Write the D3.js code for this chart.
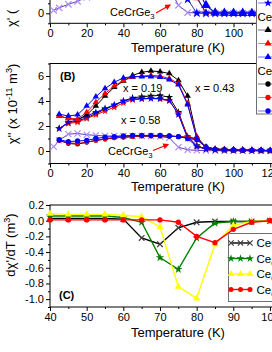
<!DOCTYPE html>
<html>
<head>
<meta charset="utf-8">
<script src="https://cdn.jsdelivr.net/npm/d3@7"></script>
<style>
    body { margin: 0; background: #fff; }
    svg { display: block; font-family: "Liberation Sans", Arial, sans-serif; }
</style>
</head>
<body>
<div id="canvas"></div>
<script>
"use strict"

/* ---------- values ---------- */

// (A) chi' : only the lowest strip of this panel is inside the picture
let tempCeA = [2, 5, 10, 15, 20, 25, 30, 40, 50, 60, 65, 70, 75, 80, 85, 90, 95, 100, 105, 110, 115, 120];
let chiCeA = [0.3, 0.55, 0.9, 1.2, 1.6, 2.0, 2.4, 3.0, 3.5, 3.8, 2.5, 0.8, 0.07, 0.03, 0.02, 0.02, 0.01, 0.01, 0.01, 0.01, 0.01, 0.01];
let tempA = [60, 65, 70, 75, 80, 85, 90, 95, 100, 105, 110, 115, 120];
let starBlueA = [6.0, 5.2, 3.6, 1.4, 0.02, 0.01, 0.01, 0.01, 0.01, 0.01, 0.01, 0.01, 0.01];
let triBlackA = [7.5, 7.0, 5.5, 3.6, 1.6, 0.05, 0.03, 0.02, 0.02, 0.02, 0.01, 0.01, 0.01];
let triRedA = [7.2, 6.8, 5.3, 3.4, 1.5, 0.04, 0.03, 0.02, 0.02, 0.02, 0.01, 0.01, 0.01];
let triBlueA = [7.0, 6.6, 5.5, 3.8, 2.5, 0.8, 0.05, 0.03, 0.02, 0.02, 0.01, 0.01, 0.01];

// (B) chi''
let tempB = [5, 10, 15, 20, 25, 30, 35, 40, 45, 50, 55, 60, 65, 70, 75, 80, 85, 90, 95, 100, 105, 110, 115, 120];
let triBlackB = [2.8, 2.6, 2.5, 2.9, 3.6, 4.4, 5.1, 5.6, 6.05, 6.3, 6.4, 6.35, 6.2, 5.65, 4.4, 1.15, 0.3, 0.15, 0.12, 0.1, 0.08, 0.06, 0.05, 0.04];
let triRedB = [2.8, 2.6, 2.55, 3.1, 3.9, 4.6, 5.2, 5.65, 5.9, 6.0, 6.05, 6.0, 5.8, 5.4, 3.8, 1.1, 0.3, 0.15, 0.12, 0.1, 0.08, 0.06, 0.05, 0.04];
let triBlueB = [2.95, 2.8, 2.9, 3.6, 4.35, 5.0, 5.5, 5.85, 5.95, 5.95, 5.95, 5.9, 5.7, 5.3, 3.7, 1.0, 0.3, 0.15, 0.12, 0.1, 0.08, 0.06, 0.05, 0.04];
let starBlackB = [1.8, 2.25, 2.4, 2.65, 3.0, 3.35, 3.65, 4.0, 4.25, 4.35, 4.4, 4.45, 4.3, 3.1, 1.15, 0.45, 0.15, 0.1, 0.08, 0.06, 0.05, 0.04, 0.03, 0.02];
let starRedB = [1.8, 2.2, 2.3, 2.6, 2.9, 3.2, 3.5, 3.85, 4.1, 4.15, 4.2, 4.15, 4.0, 3.0, 1.1, 0.4, 0.15, 0.1, 0.08, 0.06, 0.05, 0.04, 0.03, 0.02];
let starBlueB = [1.8, 2.3, 2.5, 2.8, 3.1, 3.4, 3.7, 4.0, 4.15, 4.2, 4.2, 4.2, 4.05, 2.9, 1.0, 0.35, 0.15, 0.1, 0.08, 0.06, 0.05, 0.04, 0.03, 0.02];
let circBlackB = [0.85, 0.6, 0.55, 0.7, 0.85, 0.95, 1.05, 1.1, 1.15, 1.2, 1.2, 1.2, 1.2, 1.15, 1.1, 1.0, 0.35, 0.15, 0.1, 0.08, 0.06, 0.05, 0.04, 0.03];
let circRedB = [0.85, 0.65, 0.6, 0.7, 0.85, 0.95, 1.05, 1.1, 1.15, 1.2, 1.2, 1.2, 1.2, 1.15, 1.1, 0.95, 0.3, 0.15, 0.1, 0.08, 0.06, 0.05, 0.04, 0.03];
let circBlueB = [0.9, 0.75, 0.8, 0.85, 1.0, 1.1, 1.15, 1.2, 1.25, 1.25, 1.25, 1.25, 1.2, 1.15, 1.0, 0.9, 0.3, 0.12, 0.1, 0.08, 0.06, 0.05, 0.04, 0.03];
let tempCeB = [2, 5, 10, 15, 20, 25, 30, 35, 40, 45, 50, 55, 60, 65, 70, 75, 80, 85, 90, 95, 100, 105, 110, 115, 120];
let chiCeB = [0.35, 0.85, 1.35, 1.4, 1.3, 1.25, 1.2, 1.2, 1.2, 1.2, 1.2, 1.2, 1.15, 1.05, 0.3, 0.1, 0.05, 0.03, 0.02, 0.02, 0.01, 0.01, 0.01, 0.01, 0.01];

// (C) d chi'/dT
let tempC = [40, 45, 50, 55, 60, 65, 70, 75, 80, 85, 90, 95, 100];
let dChiCe = [0.03, 0.03, 0.03, 0.03, 0.02, -0.22, -0.30, -0.09, -0.02, -0.01, -0.01, -0.01, 0.0];
let dChi19 = [0.06, 0.06, 0.06, 0.06, 0.04, -0.02, -0.47, -0.62, -0.22, -0.03, -0.01, -0.01, 0.0];
let dChi43 = [0.09, 0.08, 0.08, 0.08, 0.07, 0.05, -0.08, -0.84, -0.99, -0.30, -0.06, -0.01, 0.0];
let dChi58 = [0.01, 0.01, 0.01, 0.01, 0.01, 0.01, 0.01, -0.02, -0.20, -0.28, -0.11, -0.02, 0.0];
let legendC = ["CeCrGe3", "Ce0.81La0.19CrGe3", "Ce0.57La0.43CrGe3", "Ce0.42La0.58CrGe3"];

// tick labels
let ticksAB = [0, 20, 40, 60, 80, 100, 120];
let ticksC = [40, 50, 60, 70, 80, 90, 100];
let ticksYA = [0];
let ticksYB = [0, 2, 4, 6];
let ticksYC = [0.2, 0.0, -0.2, -0.4, -0.6, -0.8, -1.0];

/* ---------- canvas ---------- */
let drawing = d3.select("#canvas")
    .append("svg")
    .attr("width", 272)
    .attr("height", 352);

let xA = d3.scaleLinear().domain([0, 125]).range([50, 279.4]);
let yA = d3.scaleLinear().domain([-1, 12]).range([23.3, -106.7]);
let xB = d3.scaleLinear().domain([0, 125]).range([50, 279.4]);
let yB = d3.scaleLinear().domain([-1, 7]).range([163.5, 63.5]);
let xC = d3.scaleLinear().domain([40, 102]).range([50, 277.3]);
let yC = d3.scaleLinear().domain([-1.1, 0.2]).range([307, 205]);

let lavender = "#a98bff";
let purple = "#6a3ab0";

function drawFrame(x, y, xTicks, xMinor, yTicks, yMinor, yFmt) {
    drawing.append("rect")
        .attr("x", x.range()[0])
        .attr("y", y.range()[1])
        .attr("width", x.range()[1] - x.range()[0])
        .attr("height", y.range()[0] - y.range()[1])
        .attr("fill", "none")
        .attr("stroke", "black")
        .attr("stroke-width", 1)

    let bottom = drawing.append("g")
        .attr("transform", `translate(0,${y.range()[0]})`)
        .call(d3.axisBottom(x).tickValues(xTicks).tickSize(4).tickPadding(2))
    let bottomMinor = drawing.append("g")
        .attr("transform", `translate(0,${y.range()[0]})`)
        .call(d3.axisBottom(x).tickValues(xMinor).tickSize(2).tickFormat(""))
    let left = drawing.append("g")
        .attr("transform", `translate(${x.range()[0]},0)`)
        .call(d3.axisLeft(y).tickValues(yTicks).tickSize(4).tickPadding(2).tickFormat(yFmt))
    let leftMinor = drawing.append("g")
        .attr("transform", `translate(${x.range()[0]},0)`)
        .call(d3.axisLeft(y).tickValues(yMinor).tickSize(2).tickFormat(""))

    for (let g of [bottom, bottomMinor, left, leftMinor]) {
        g.select(".domain").remove();
        g.selectAll("text")
            .attr("font-size", 11)
            .attr("font-family", "Liberation Sans, Arial, sans-serif")
            .attr("fill", "black");
    }
}

function markerPath(shape, size) {
    if (shape == "x") return d3.symbol().type(d3.symbolTimes || d3.symbolCross).size(size)();
    if (shape == "star") return d3.symbol().type(d3.symbolStar).size(size)();
    if (shape == "tri") return d3.symbol().type(d3.symbolTriangle).size(size)();
    return d3.symbol().type(d3.symbolCircle).size(size)();
}

function plotSeries(xs, ys, x, y, lineColor, markColor, shape, size, width) {
    let pts = xs.map((t, i) => [t, ys[i]]);
    drawing.append("path")
        .datum(pts)
        .attr("d", d3.line().x(d => x(d[0])).y(d => y(d[1])))
        .attr("fill", "none")
        .attr("stroke", lineColor)
        .attr("stroke-width", width)

    let marks = drawing.append("g")
        .selectAll("path")
        .data(pts)
        .join("path")
        .attr("transform", d => `translate(${x(d[0])},${y(d[1])})`)
        .attr("d", markerPath(shape, size))
    if (shape == "x") {
        marks.attr("fill", "none").attr("stroke", markColor).attr("stroke-width", 1.2);
    } else {
        marks.attr("fill", markColor);
    }
}

// text with sub/superscript pieces: parts = [[text, "sub"|"sup"|""], ...]
function richText(parent, parts, size) {
    let shift = 0;
    parts.forEach(p => {
        let target = p[1] == "sup" ? -0.4 * size : p[1] == "sub" ? 0.3 * size : 0;
        parent.append("tspan")
            .attr("dy", target - shift)
            .attr("font-size", p[1] ? size * 0.7 : size)
            .text(p[0]);
        shift = target;
    });
}

function formula(name) {
    // split "Ce0.81La0.19CrGe3" into normal and subscript pieces
    return name.match(/[A-Za-z]+|[0-9.]+/g).map(s => [s, /[0-9]/.test(s) ? "sub" : ""]);
}

/* ---------- panel A ---------- */
drawFrame(xA, yA, ticksAB, [10, 30, 50, 70, 90, 110], ticksYA, [-1, 1], d3.format("d"));
plotSeries(tempCeA, chiCeA, xA, yA, purple, lavender, "x", 28, 1);
plotSeries(tempA, triBlackA, xA, yA, "black", "black", "tri", 18, 1);
plotSeries(tempA, triRedA, xA, yA, "#7a2a9a", "red", "tri", 18, 1);
plotSeries(tempA, triBlueA, xA, yA, "#2020c0", "blue", "tri", 40, 1.2);
plotSeries(tempA, starBlueA, xA, yA, "#3a2aa0", "blue", "star", 30, 1);

/* ---------- panel B ---------- */
drawFrame(xB, yB, ticksAB, [10, 30, 50, 70, 90, 110], ticksYB, [-1, 1, 3, 5, 7], d3.format("d"));
plotSeries(tempCeB, chiCeB, xB, yB, purple, lavender, "x", 26, 1);
plotSeries(tempB, circBlackB, xB, yB, "black", "black", "circle", 18, 1);
plotSeries(tempB, circRedB, xB, yB, "#c00000", "red", "circle", 18, 1);
plotSeries(tempB, circBlueB, xB, yB, "blue", "blue", "circle", 22, 1);
plotSeries(tempB, starBlackB, xB, yB, "black", "black", "star", 18, 1);
plotSeries(tempB, starRedB, xB, yB, "red", "red", "star", 18, 1);
plotSeries(tempB, starBlueB, xB, yB, "blue", "blue", "star", 18, 1);
plotSeries(tempB, triBlackB, xB, yB, "black", "black", "tri", 18, 1);
plotSeries(tempB, triRedB, xB, yB, "red", "red", "tri", 18, 1);
plotSeries(tempB, triBlueB, xB, yB, "blue", "blue", "tri", 18, 1);

/* ---------- panel C ---------- */
drawFrame(xC, yC, ticksC, [45, 55, 65, 75, 85, 95], ticksYC, [0.1, -0.1, -0.3, -0.5, -0.7, -0.9, -1.1], d => d.toFixed(1));
let colorsC = ["black", "#008000", "#ffff00", "red"];
let shapesC = ["x", "star", "tri", "circle"];
[dChiCe, dChi19, dChi43, dChi58].forEach((vals, i) => {
    plotSeries(tempC, vals, xC, yC, colorsC[i], i == 0 ? "#404040" : colorsC[i], shapesC[i], 22, 1.4);
});

// legend (C)
drawing.append("rect")
    .attr("x", 228.5).attr("y", 233.5)
    .attr("width", 80).attr("height", 68)
    .attr("fill", "white").attr("stroke", "#707070").attr("stroke-width", 1)
legendC.forEach((name, i) => {
    let ly = 243 + i * 15.5;
    let x0 = 231, x1 = 250;
    plotSeries([x0, (x0 + x1) / 2, x1].map(v => xC.invert(v)), [ly, ly, ly].map(v => yC.invert(v)), xC, yC,
        colorsC[i], i == 0 ? "#404040" : colorsC[i], shapesC[i], 20, 1.4);
    let t = drawing.append("text").attr("x", 256.5).attr("y", ly + 4);
    richText(t, formula(name), 11.5);
});

/* ---------- legend spanning (A) and (B) ---------- */
drawing.append("rect")
    .attr("x", 256.5).attr("y", -50)
    .attr("width", 80).attr("height", 164)
    .attr("fill", "white").attr("stroke", "#707070").attr("stroke-width", 1)
// symbol rows; the entry texts sit past the right edge of the picture
let legendRows = [
    ["blue", "star"],
    [null, "Ce1-xLaxCrGe3"],
    ["black", "tri"],
    ["red", "tri"],
    ["blue", "tri"],
    [null, "Ce1-xLaxCrGe3"],
    ["black", "circle"],
    ["red", "circle"],
    ["blue", "circle"]
];
legendRows.forEach((row, i) => {
    let ly = 3 + i * 13.5;
    if (row[0] == null) {
        drawing.append("text").attr("x", 257.5).attr("y", ly + 4).attr("font-size", 11.5).text(row[1]);
        return;
    }
    drawing.append("line")
        .attr("x1", 258).attr("x2", 285).attr("y1", ly).attr("y2", ly)
        .attr("stroke", row[0]).attr("stroke-opacity", 0.55).attr("stroke-width", 1)
    drawing.append("path")
        .attr("transform", `translate(268,${ly})`)
        .attr("d", markerPath(row[1], 22))
        .attr("fill", row[0])
});

/* ---------- titles and notes ---------- */
function xTitle(y) {
    drawing.append("text")
        .attr("x", 178).attr("y", y)
        .attr("text-anchor", "middle")
        .attr("font-size", 13)
        .text("Temperature (K)")
}
xTitle(52);
xTitle(191);
xTitle(337);

let titleA = drawing.append("text").attr("transform", "translate(16,27) rotate(-90)").attr("text-anchor", "start");
richText(titleA, [["χ' (", ""]], 13);
let titleB = drawing.append("text").attr("transform", "translate(17,104) rotate(-90)").attr("text-anchor", "middle");
richText(titleB, [["χ'' (x 10", ""], ["-11", "sup"], [" m", ""], ["3", "sup"], [")", ""]], 13);
let titleC = drawing.append("text").attr("transform", "translate(15,245) rotate(-90)").attr("text-anchor", "middle");
richText(titleC, [["dχ'/dT (m", ""], ["3", "sup"], [")", ""]], 13);

drawing.append("text").attr("x", 60).attr("y", 80).attr("font-size", 11).attr("font-weight", "bold").text("(B)");
drawing.append("text").attr("x", 59).attr("y", 299).attr("font-size", 11).attr("font-weight", "bold").text("(C)");

let notes = [["x = 0.19", 123, 91.5], ["x = 0.43", 195, 91.5], ["x = 0.58", 121, 124]];
notes.forEach(n => drawing.append("text").attr("x", n[1]).attr("y", n[2]).attr("font-size", 11).text(n[0]));

let ceA = drawing.append("text").attr("x", 110).attr("y", 16);
richText(ceA, formula("CeCrGe3"), 11);
let ceB = drawing.append("text").attr("x", 108).attr("y", 155);
richText(ceB, formula("CeCrGe3"), 11);

// red arrows
drawing.append("defs").append("marker")
    .attr("id", "head").attr("viewBox", "0 0 10 10").attr("refX", 8).attr("refY", 5)
    .attr("markerWidth", 5).attr("markerHeight", 5).attr("orient", "auto")
    .append("path").attr("d", "M0,0 L10,5 L0,10 z").attr("fill", "red");
[[156, 13, 170, 5], [153, 150.5, 168, 144.5]].forEach(a => {
    drawing.append("line")
        .attr("x1", a[0]).attr("y1", a[1]).attr("x2", a[2]).attr("y2", a[3])
        .attr("stroke", "red").attr("stroke-width", 1.2)
        .attr("marker-end", "url(#head)")
});
</script>
</body>
</html>
